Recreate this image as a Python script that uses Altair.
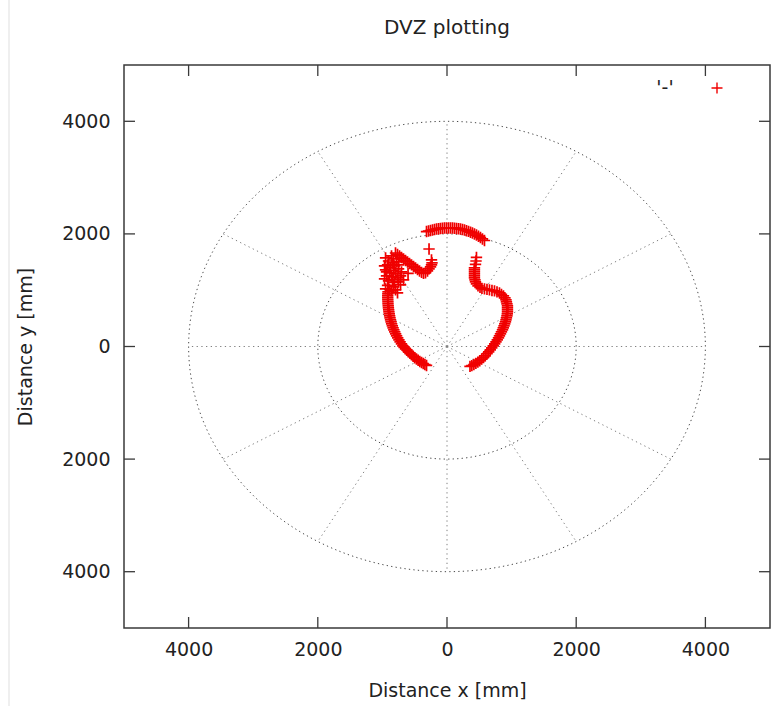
import math

import altair as alt
import pandas as pd

# ---- scan points (mm), grouped by the part of the outline they trace ----
left_wall_x = [-317, -342, -368, -394, -421, -447, -473, -500, -524, -549, -572, -596, -619, -642, -664,
               -684, -705, -726, -744, -763, -780, -795, -809, -823, -835, -846, -857, -866, -874, -882,
               -888, -894, -899, -903, -907, -910, -913, -914, -916, -917, -917, -916, -913]
left_wall_y = [-337, -321, -303, -285, -266, -245, -223, -200, -174, -147, -121, -94, -67, -41, -14,
               12, 48, 83, 119, 154, 190, 225, 261, 296, 332, 367, 402, 438, 473, 509,
               544, 580, 615, 651, 686, 722, 757, 793, 828, 863, 899, 934, 970]

cluster_x = [-859, -828, -905, -843, -920, -812, -874, -951, -828, -750, -890, -797, -704, -603, -936,
             -859, -766, -673, -905, -812, -719, -920, -828, -890, -797,
             -951, -781, -967, -750, -936, -719, -967, -843, -750, -951, -859, -766]
cluster_y = [1608, 1555, 1519, 1484, 1449, 1431, 1395, 1360, 1351, 1378, 1307, 1289, 1324, 1298, 1253,
             1236, 1218, 1183, 1165, 1138, 1094, 1085, 1058, 1014, 1005,
             1573, 1502, 1431, 1449, 1324, 1253, 1200, 1183, 1147, 1023, 988, 952]

zigzag_x = [-797, -766, -735, -704, -673, -642, -611, -580, -549, -518, -487, -456, -425, -394, -364,
            -333, -302, -278, -255, -240, -232, -240, -278]
zigzag_y = [1661, 1635, 1608, 1582, 1555, 1528, 1502, 1475, 1449, 1422, 1395, 1369, 1342, 1316, 1298,
            1307, 1342, 1378, 1413, 1449, 1484, 1537, 1732]

top_arc_x = [-317, -286, -255, -224, -193, -162, -131, -101, -70, -39, -8, 23, 54, 85, 116,
             147, 178, 209, 240, 271, 302, 333, 364, 394, 425, 456, 487, 518, 549, 580]
top_arc_y = [2042, 2051, 2060, 2069, 2078, 2087, 2092, 2097, 2101, 2105, 2105, 2105, 2105, 2105, 2101,
             2097, 2092, 2087, 2078, 2069, 2057, 2044, 2030, 2016, 1998, 1980, 1959, 1936, 1910, 1883]

right_wall_x = [456, 449, 441,
                425, 425, 425, 425, 425, 425, 433, 441, 456, 480, 511, 541, 580, 619, 657,
                696, 735, 774, 812, 843, 874, 897, 913, 920, 928, 936, 936, 936, 936, 933,
                928, 920, 913, 905, 894, 883, 871, 859, 843, 828, 812, 797, 778, 758, 738,
                716, 693, 670, 645, 619, 592, 565, 537, 507, 478, 447, 416, 385, 356]
right_wall_y = [1582, 1519, 1457,
                1395, 1360, 1324, 1289, 1253, 1218, 1183, 1147, 1112, 1076, 1050, 1032, 1023, 1014, 1005,
                996, 988, 970, 952, 926, 899, 863, 828, 793, 757, 722, 686, 651, 615, 580,
                544, 509, 473, 438, 402, 367, 332, 296, 261, 225, 190, 154, 119, 83, 48,
                12, -23, -59, -94, -129, -165, -197, -225, -252, -277, -300, -321, -339, -353]

tick_values = [-4000, -2000, 0, 2000, 4000]
ring_radii = [2000, 4000]
spoke_angles = [0, 30, 60, 90, 120, 150, 180, 210, 240, 270, 300, 330]

# ---- layout ----
W, H = 646, 563
FONT = "DejaVu Sans"
TEXT = "#222222"
FRAME = "#3a3a3a"
RED = "#f00000"
PLUS = "M-1,0L1,0M0,-1L0,1"

scan = pd.DataFrame({
    "x": left_wall_x + cluster_x + zigzag_x + top_arc_x + right_wall_x,
    "y": left_wall_y + cluster_y + zigzag_y + top_arc_y + right_wall_y,
})

ring_rows = []
for r in ring_radii:
    for k in range(0, 361, 2):
        t = math.radians(k)
        ring_rows.append({"rx": r * math.cos(t), "ry": r * math.sin(t), "ring": r, "k": k})
rings = pd.DataFrame(ring_rows)

spokes = pd.DataFrame({
    "sx": [0.0] * len(spoke_angles),
    "sy": [0.0] * len(spoke_angles),
    "ex": [ring_radii[-1] * math.cos(math.radians(a)) for a in spoke_angles],
    "ey": [ring_radii[-1] * math.sin(math.radians(a)) for a in spoke_angles],
})

ticks = pd.DataFrame({"v": tick_values})
one_row = pd.DataFrame({"v": [0]})

xscale = alt.Scale(domain=[-5000, 5000], nice=False, zero=False)
yscale = alt.Scale(domain=[-5000, 5000], nice=False, zero=False)

label_expr = "format(abs(datum.value), 'd')"
xaxis = alt.Axis(values=tick_values, labelExpr=label_expr, ticks=False, domain=False, grid=False,
                 labelFont=FONT, labelFontSize=19, labelColor=TEXT, labelPadding=12,
                 labelOverlap=False, labelFlush=False,
                 title="Distance x [mm]", titleFont=FONT, titleFontSize=19, titleFontWeight="normal",
                 titleColor=TEXT, titleY=68, titleBaseline="alphabetic")
yaxis = alt.Axis(values=tick_values, labelExpr=label_expr, ticks=False, domain=False, grid=False,
                 labelFont=FONT, labelFontSize=19, labelColor=TEXT, labelPadding=14,
                 labelOverlap=False, labelFlush=False,
                 title="Distance y [mm]", titleFont=FONT, titleFontSize=19, titleFontWeight="normal",
                 titleColor=TEXT, titleX=-93, titleY=H / 2, titleAngle=270,
                 titleBaseline="alphabetic", titleAlign="center")


def X(field):
    return alt.X(field, type="quantitative", scale=xscale, axis=xaxis)


def Y(field):
    return alt.Y(field, type="quantitative", scale=yscale, axis=yaxis)


# polar grid: rings and spokes, dotted
ring_layer = alt.Chart(rings).mark_line(
    color="#4a4a4a", strokeWidth=1, strokeDash=[1.3, 3.2]
).encode(x=X("rx"), y=Y("ry"), detail="ring:N", order="k:Q")

spoke_layer = alt.Chart(spokes).mark_rule(
    color="#808080", strokeWidth=1, strokeDash=[1.3, 3.4]
).encode(x=X("sx"), y=Y("sy"), x2="ex", y2="ey")

# inward tick marks on all four sides
tick_style = dict(color=FRAME, strokeWidth=1.3)
tick_bottom = alt.Chart(ticks).mark_rule(**tick_style).encode(
    x=X("v"), y=alt.value(H), y2=alt.value(H - 11))
tick_top = alt.Chart(ticks).mark_rule(**tick_style).encode(
    x=X("v"), y=alt.value(0), y2=alt.value(11))
tick_left = alt.Chart(ticks).mark_rule(**tick_style).encode(
    y=Y("v"), x=alt.value(0), x2=alt.value(11))
tick_right = alt.Chart(ticks).mark_rule(**tick_style).encode(
    y=Y("v"), x=alt.value(W), x2=alt.value(W - 11))

points = alt.Chart(scan).mark_point(
    shape=PLUS, size=130, filled=False, color=RED, strokeWidth=1.7, opacity=1
).encode(x=X("x"), y=Y("y"))

# chart title, centred over the plot frame
title_text = alt.Chart(one_row).mark_text(
    text="DVZ plotting", font=FONT, fontSize=20, color=TEXT, align="center", baseline="alphabetic"
).encode(x=alt.value(W / 2), y=alt.value(-31))

# key in the top-right corner
key_text = alt.Chart(one_row).mark_text(
    text="'-'", font=FONT, fontSize=19, color=TEXT, align="center", baseline="alphabetic"
).encode(x=alt.value(541), y=alt.value(29))
key_mark = alt.Chart(one_row).mark_point(
    shape=PLUS, size=121, filled=False, color=RED, strokeWidth=1.4, opacity=1
).encode(x=alt.value(593), y=alt.value(23))

# faint page edge on the left
edge = alt.Chart(one_row).mark_rule(
    color="#efefef", strokeWidth=2
).encode(x=alt.value(-115), y=alt.value(-65), y2=alt.value(H + 78))

chart = alt.layer(
    edge, ring_layer, spoke_layer, tick_bottom, tick_top, tick_left, tick_right,
    points, title_text, key_text, key_mark
).properties(
    width=W, height=H,
    background="white",
    autosize=alt.AutoSizeParams(type="none"),
    padding={"left": 124, "top": 65, "right": 5, "bottom": 78},
).configure_view(
    stroke=FRAME, strokeWidth=1.5
)

chart.save("out.html", embed_options={"renderer": "svg", "actions": False})
